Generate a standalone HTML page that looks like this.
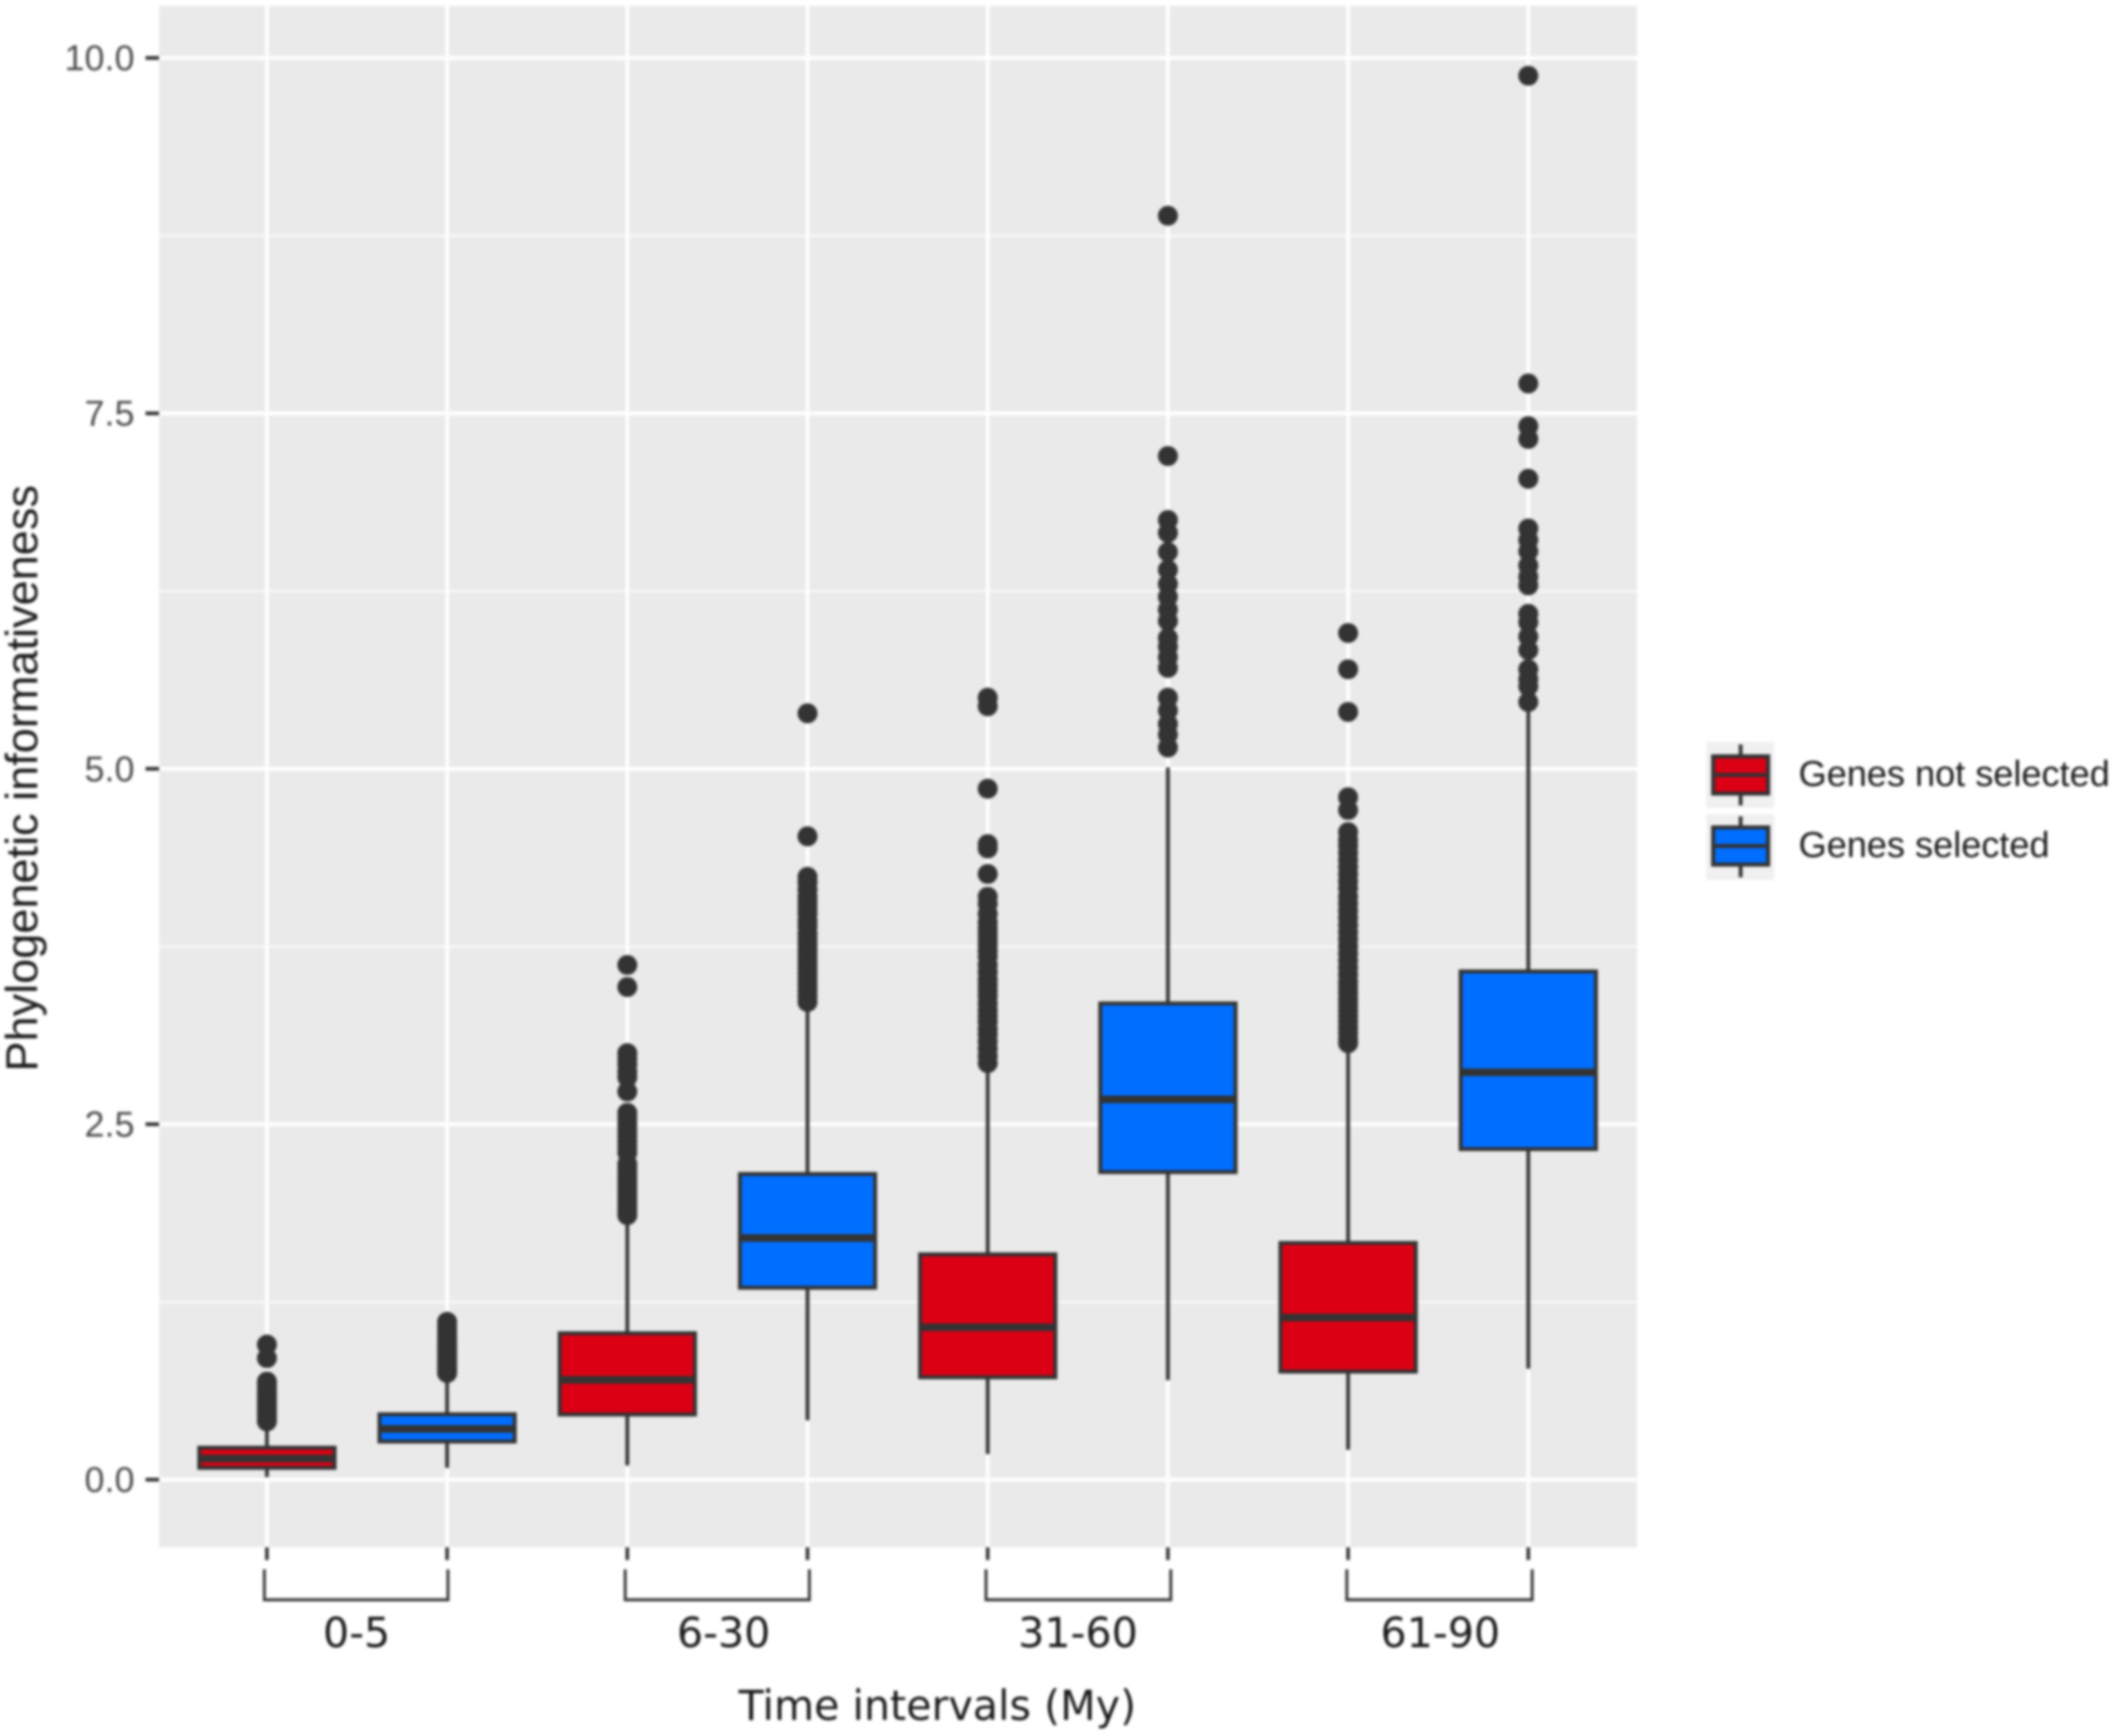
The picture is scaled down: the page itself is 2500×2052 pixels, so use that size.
<!DOCTYPE html>
<html lang="en">
<head>
<meta charset="utf-8">
<title>Phylogenetic informativeness by time interval</title>
<style>
  html, body { margin: 0; padding: 0; background: #fff; }
  #chart { display: block; width: 2500px; height: 2052px; filter: blur(1.7px); }
  text { font-family: "Liberation Sans", sans-serif; }
  .dj { font-family: "DejaVu Sans", sans-serif; }
</style>
</head>
<body>
<svg id="chart" xmlns="http://www.w3.org/2000/svg" width="2500" height="2052" viewBox="0 0 2500 2052">
  <rect x="0" y="0" width="2500" height="2052" fill="#ffffff"/>
  <g id="panel"></g>
  <g id="axes"></g>
  <text transform="translate(44 920) rotate(-90)" text-anchor="middle" font-size="53.3" fill="#1a1a1a">Phylogenetic informativeness</text>
  <text class="dj" x="1108" y="2033" text-anchor="middle" font-size="48.7" fill="#1a1a1a">Time intervals (My)</text>
  <g>
    <g>
      <rect x="2017" y="877" width="80" height="78" fill="#f0f0f0"/>
      <line x1="2057.5" x2="2057.5" y1="880" y2="952" stroke="#333" stroke-width="4.5"/>
      <rect x="2025" y="894" width="65" height="44" fill="#dc0014" stroke="#333" stroke-width="4.8"/>
      <line x1="2025" x2="2090" y1="916" y2="916" stroke="#333" stroke-width="4.8"/>
      <text x="2126" y="929" font-size="42.7" fill="#1a1a1a">Genes not selected</text>
    </g>
    <g>
      <rect x="2017" y="962" width="80" height="78" fill="#f0f0f0"/>
      <line x1="2057.5" x2="2057.5" y1="965" y2="1037" stroke="#333" stroke-width="4.5"/>
      <rect x="2025" y="978" width="65" height="44" fill="#006eff" stroke="#333" stroke-width="4.8"/>
      <line x1="2025" x2="2090" y1="1000" y2="1000" stroke="#333" stroke-width="4.8"/>
      <text x="2126" y="1013" font-size="42.7" fill="#1a1a1a">Genes selected</text>
    </g>
  </g>
</svg>
<script>
// ---- chart data ----
const intervalLabels = ["0-5", "6-30", "31-60", "61-90"];
const yTickValues = [0, 2.5, 5, 7.5, 10];
const boxIds = ["0-5-not-selected", "0-5-selected", "6-30-not-selected", "6-30-selected", "31-60-not-selected", "31-60-selected", "61-90-not-selected", "61-90-selected"];
const boxGroup = [0, 1, 0, 1, 0, 1, 0, 1];
const groupColors = ["#dc0014", "#006eff"];
const whiskerLow = [0.018, 0.083, 0.10, 0.417, 0.18, 0.70, 0.21, 0.78];
const q1 = [0.083, 0.268, 0.458, 1.35, 0.72, 2.163, 0.76, 2.325];
const median = [0.149, 0.357, 0.702, 1.70, 1.072, 2.675, 1.14, 2.865];
const q3 = [0.225, 0.46, 1.03, 2.15, 1.585, 3.35, 1.665, 3.575];
const whiskerHigh = [0.36, 0.70, 1.85, 3.31, 2.90, 5.01, 3.05, 5.455];
const outliers05Not = [0.95, 0.855, 0.69, 0.67, 0.65, 0.62, 0.60, 0.58, 0.56, 0.54, 0.52, 0.50, 0.48, 0.46, 0.44, 0.42, 0.41];
const outliers05Sel = [1.11, 1.08, 1.05, 1.02, 0.99, 0.96, 0.94, 0.92, 0.90, 0.88, 0.86, 0.84, 0.82, 0.80, 0.78, 0.76, 0.75];
const outliers630Not = [3.62, 3.465, 3.00, 2.96, 2.92, 2.87, 2.83, 2.73, 2.58, 2.54, 2.50, 2.46, 2.42, 2.38, 2.34, 2.30, 2.22, 2.19, 2.15, 2.12, 2.09, 2.06, 2.03, 2.00, 1.97, 1.94, 1.91, 1.88, 1.86];
const outliers630Sel = [5.39, 4.525, 4.24, 4.20, 4.15, 4.10, 4.06, 4.02, 3.98, 3.93, 3.89, 3.84, 3.80, 3.76, 3.72, 3.68, 3.64, 3.60, 3.56, 3.52, 3.48, 3.44, 3.40, 3.36];
const outliers3160Not = [5.50, 5.44, 4.86, 4.47, 4.44, 4.26, 4.10, 4.05, 3.98, 3.92, 3.88, 3.84, 3.80, 3.76, 3.72, 3.68, 3.62, 3.57, 3.52, 3.48, 3.44, 3.40, 3.35, 3.30, 3.26, 3.22, 3.17, 3.13, 3.08, 3.03, 2.98, 2.93];
const outliers3160Sel = [8.89, 7.20, 6.75, 6.66, 6.525, 6.40, 6.30, 6.21, 6.12, 6.04, 5.92, 5.86, 5.785, 5.71, 5.50, 5.41, 5.315, 5.24, 5.15];
const outliers6190Not = [5.955, 5.70, 5.40, 4.80, 4.71, 4.555, 4.50, 4.46, 4.41, 4.36, 4.31, 4.26, 4.21, 4.16, 4.10, 4.05, 4.00, 3.95, 3.90, 3.85, 3.80, 3.75, 3.70, 3.65, 3.60, 3.55, 3.50, 3.46, 3.42, 3.38, 3.34, 3.30, 3.26, 3.22, 3.18, 3.14, 3.10, 3.07];
const outliers6190Sel = [9.875, 7.71, 7.41, 7.32, 7.04, 6.69, 6.61, 6.53, 6.43, 6.35, 6.29, 6.09, 6.03, 5.93, 5.835, 5.70, 5.63, 5.58, 5.47];
const outlierSets = [outliers05Not, outliers05Sel, outliers630Not, outliers630Sel, outliers3160Not, outliers3160Sel, outliers6190Not, outliers6190Sel];

// ---- axis functions ----
const panelLeft = 188, panelRight = 1935, panelTop = 7, panelBottom = 1829;
const xBase = 315.5, xStep = 213, boxHalf = 80;
function xScale(i) { return xBase + xStep * i; }
function yScale(v) { return 1749 - 168.05 * v; }

const NS = "http://www.w3.org/2000/svg";
function make(parent, tag, attrs, text) {
  const el = document.createElementNS(NS, tag);
  for (const k in attrs) el.setAttribute(k, attrs[k]);
  if (text !== undefined) el.textContent = text;
  parent.appendChild(el);
  return el;
}

const panel = document.getElementById("panel");
const axes = document.getElementById("axes");

// panel background
const bg = make(panel, "rect", { x: panelLeft, y: panelTop, width: panelRight - panelLeft, height: panelBottom - panelTop, fill: "#eaeaea" });



// minor horizontal gridlines
for (let i = 0; i < yTickValues.length - 1; i++) {
  const yy = yScale((yTickValues[i] + yTickValues[i + 1]) / 2);
  const minor = make(panel, "line", { x1: panelLeft, x2: panelRight, y1: yy, y2: yy, stroke: "#fafafa", "stroke-width": 2.4 });
  
  
}
// major horizontal gridlines, ticks, labels
yTickValues.forEach(function (v) {
  const yy = yScale(v);
  const major = make(panel, "line", { x1: panelLeft, x2: panelRight, y1: yy, y2: yy, stroke: "#ffffff", "stroke-width": 4.4 });
  
  
  const tick = make(axes, "line", { x1: 172, x2: panelLeft, y1: yy, y2: yy, stroke: "#333", "stroke-width": 4.4 });
  
  
  const lab = make(axes, "text", { x: 159, y: yy + 14.5, "text-anchor": "end", "font-size": 42.5, fill: "#4d4d4d" }, v.toFixed(1));
  
  
});
// vertical gridlines + x ticks
boxIds.forEach(function (id, i) {
  const xx = xScale(i);
  const grid = make(panel, "line", { x1: xx, x2: xx, y1: panelTop, y2: panelBottom, stroke: "#ffffff", "stroke-width": 4.4 });
  
  
  const tick = make(axes, "line", { x1: xx, x2: xx, y1: panelBottom, y2: 1844, stroke: "#333", "stroke-width": 4.2 });
  
  
});

// boxes
boxIds.forEach(function (id, i) {
  const xx = xScale(i);
  const g = make(panel, "g", {});
  
  
  const w1 = make(g, "line", { x1: xx, x2: xx, y1: yScale(whiskerHigh[i]), y2: yScale(q3[i]), stroke: "#333", "stroke-width": 4.4 });
  
  
  const w2 = make(g, "line", { x1: xx, x2: xx, y1: yScale(q1[i]), y2: yScale(whiskerLow[i]), stroke: "#333", "stroke-width": 4.4 });
  
  
  const body = make(g, "rect", { x: xx - boxHalf, width: boxHalf * 2, y: yScale(q3[i]), height: yScale(q1[i]) - yScale(q3[i]), fill: groupColors[boxGroup[i]], stroke: "#333", "stroke-width": 4.6 });
  
  
  const med = make(g, "line", { x1: xx - boxHalf, x2: xx + boxHalf, y1: yScale(median[i]), y2: yScale(median[i]), stroke: "#333", "stroke-width": 9 });
  
  
  outlierSets[i].forEach(function (v) {
    const pt = make(g, "circle", { cx: xx, cy: yScale(v), r: 11.8, fill: "#333" });
    
    
  });
});

// interval brackets and labels (the hand-drawn annotations sit slightly off the category centres)
const labelCentreNudge = { 0: 0.5, 1: 7.5, 2: -0.5, 3: 1 };
intervalLabels.forEach(function (label, k) {
  const x0 = xScale(k * 2) - 3 + 0.5 * k;
  const x1 = xScale(k * 2 + 1) + 1 + 1.2 * k;
  const br = make(axes, "path", { d: "M" + x0 + " 1855V1891H" + x1 + "V1855", fill: "none", stroke: "#333", "stroke-width": 3.4 });
  
  
  const t = make(axes, "text", { x: (x0 + x1) / 2 + labelCentreNudge[k], y: 1947, "text-anchor": "middle", "font-size": 48.7, fill: "#1a1a1a", class: "dj" }, label);
  
  
});
</script>
</body>
</html>
